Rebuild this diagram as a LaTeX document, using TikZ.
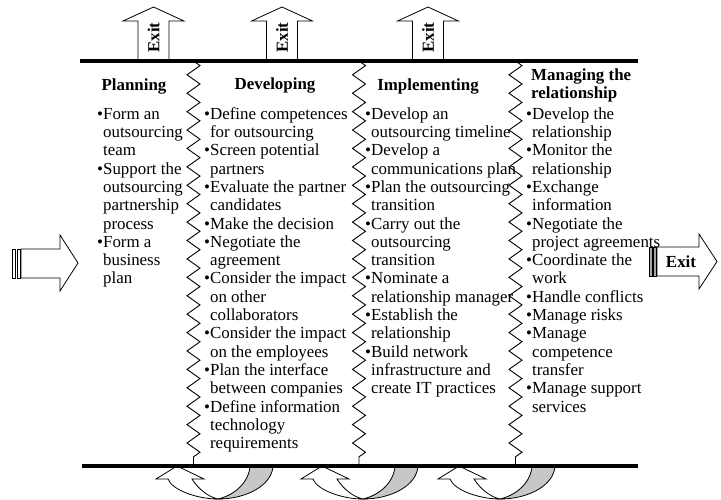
\documentclass[tikz,border=0pt]{standalone}
\usepackage{fontspec}
\setmainfont{Liberation Serif}
\usetikzlibrary{decorations.pathmorphing}
\newcommand\bul{\textbullet}
\newcommand\cont{\phantom{\textbullet}}
\tikzset{
  phaseline/.style = {line width=3.5pt},
  divider/.style = {line width=0.9pt, decorate, decoration={zigzag, segment length=18.41pt, amplitude=6.5pt}},
  arrowbody/.style = {draw=black, fill=white, line width=0.8pt},
  tailbar/.style = {arrowbody, fill=black!35},
  phasetitle/.style = {font=\fontsize{16.9}{18.3}\selectfont\bfseries, inner sep=0pt},
  itemlist/.style = {font=\fontsize{16.9}{18.3}\selectfont, align=left, anchor=north west, inner sep=0pt},
  exitup/.pic = {
    \filldraw[arrowbody] (-15.5,0) -- (-15.5,-40) -- (-30.5,-40) -- (0,-54) -- (30.5,-40) -- (15.5,-40) -- (15.5,0);
    \node[phasetitle, rotate=90] (-lbl) at (0,-23.5) {Exit};
  },
  uturn/.pic = {
    \filldraw[arrowbody, fill=black!22] (73,0) .. controls (72,16) and (58,29) .. (41,33) .. controls (70,33) and (95,19) .. (96,0);
    \filldraw[arrowbody] (0,0) -- (27,13) -- (15,13) .. controls (22,24) and (32,31) .. (41,33) .. controls (20,33) and (-5,24) .. (-9,13) -- (-21,13) -- cycle;
  }
}
\begin{document}
\begin{tikzpicture}[x=1pt, y=-1pt]
  \useasboundingbox (0,0) rectangle (721,499);

  % exits at the top
  \pic (exitA) at (153.5,61) {exitup};
  \pic (exitB) at (282,61) {exitup};
  \pic (exitC) at (428,61) {exitup};

  % returns at the bottom
  \pic at (177,466) {uturn};
  \pic at (322,466) {uturn};
  \pic at (459,466) {uturn};

  % entry arrow
  \filldraw[arrowbody] (12,249) rectangle (15.5,278);
  \filldraw[arrowbody] (17,249) rectangle (20,278);
  \filldraw[arrowbody] (21,249) -- (60,249) -- (60,235) -- (78,263) -- (60,291) -- (60,278) -- (21,278) -- cycle;

  % exit arrow on the right
  \filldraw[tailbar] (649,247) rectangle (652,276);
  \filldraw[tailbar] (653.5,247) rectangle (656,276);
  \filldraw[arrowbody] (657,247) -- (699,247) -- (699,234) -- (717,261.5) -- (699,289) -- (699,276) -- (657,276) -- cycle;
  \node[phasetitle] (exitD) at (681,261.5) {Exit};

  % dividers
  \coordinate (topL) at (80,61);
  \coordinate (topR) at (638,61);
  \coordinate (botL) at (82,466);
  \coordinate (botR) at (638,466);
  \draw[divider] (193.5,61) coordinate (zA) -- (193.5,466) coordinate (zAb);
  \draw[divider] (359,61) coordinate (zB) -- (359,466) coordinate (zBb);
  \draw[divider] (515.5,61) coordinate (zC) -- (515.5,466) coordinate (zCb);
  \draw[phaseline] (topL) -- (topR);
  \draw[phaseline] (botL) -- (botR);

  % phase titles
  \node[phasetitle, anchor=base] (planning) at (134,90) {Planning};
  \node[phasetitle, anchor=base] (developing) at (275,89.5) {Developing};
  \node[phasetitle, anchor=base] (implementing) at (428,90) {Implementing};
  \node[phasetitle, align=left, anchor=north west] (managing) at (531,67.2) {\strut Managing the\\relationship};

  % phase activities
  \node[itemlist] (planlist) at (97,106.2) {\strut\bul Form an\\\cont outsourcing\\\cont team\\\bul Support the\\\cont outsourcing\\\cont partnership\\\cont process\\\bul Form a\\\cont business\\\cont plan};
  \node[itemlist] (devlist) at (204,106.2) {\strut\bul Define competences\\\cont for outsourcing\\\bul Screen potential\\\cont partners\\\bul Evaluate the partner\\\cont candidates\\\bul Make the decision\\\bul Negotiate the\\\cont agreement\\\bul Consider the impact\\\cont on other\\\cont collaborators\\\bul Consider the impact\\\cont on the employees\\\bul Plan the interface\\\cont between companies\\\bul Define information\\\cont technology\\\cont requirements};
  \node[itemlist] (impllist) at (365,106.2) {\strut\bul Develop an\\\cont outsourcing timeline\\\bul Develop a\\\cont communications plan\\\bul Plan the outsourcing\\\cont transition\\\bul Carry out the\\\cont outsourcing\\\cont transition\\\bul Nominate a\\\cont relationship manager\\\bul Establish the\\\cont relationship\\\bul Build network\\\cont infrastructure and\\\cont create IT practices};
  \node[itemlist] (manlist) at (526,106.2) {\strut\bul Develop the\\\cont relationship\\\bul Monitor the\\\cont relationship\\\bul Exchange\\\cont information\\\bul Negotiate the\\\cont project agreements\\\bul Coordinate the\\\cont work\\\bul Handle conflicts\\\bul Manage risks\\\bul Manage\\\cont competence\\\cont transfer\\\bul Manage support\\\cont services};
\end{tikzpicture}
\end{document}
